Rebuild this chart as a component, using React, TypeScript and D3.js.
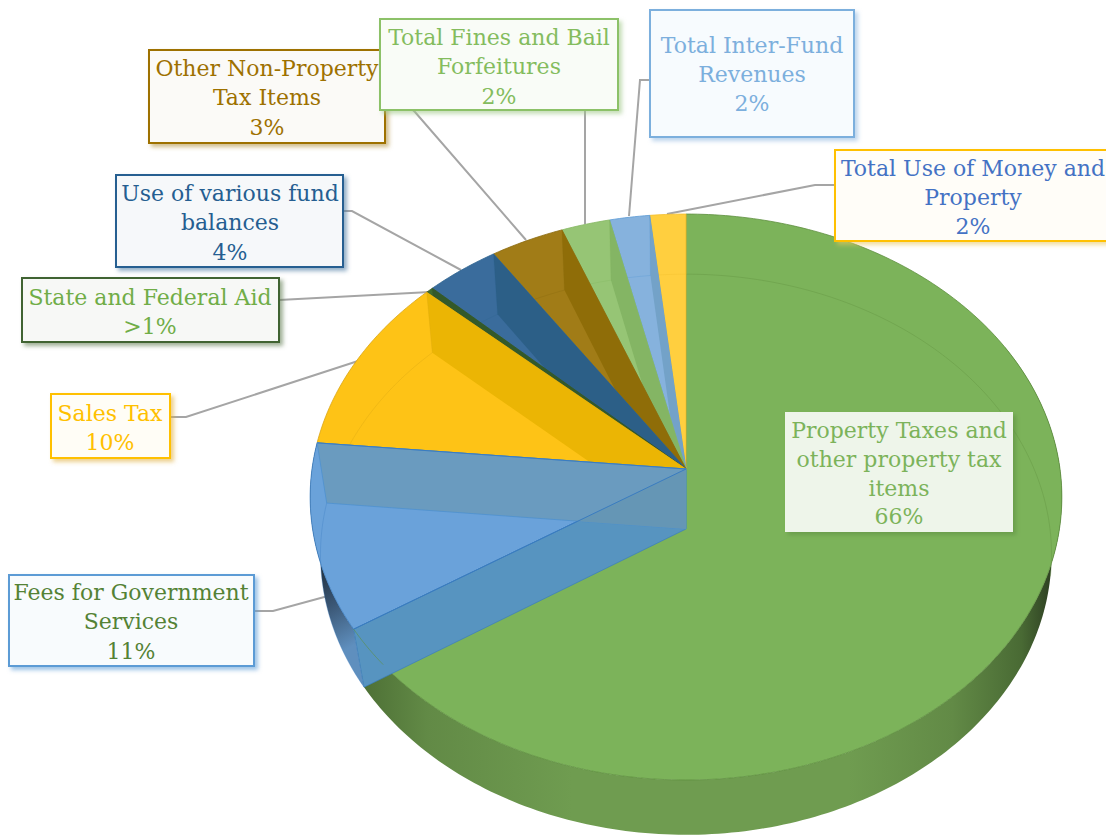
import React from "react";
import * as d3 from "d3";

// ---- data ----
const categories = [
  "Property Taxes and other property tax items",
  "Fees for Government Services",
  "Sales Tax",
  "State and Federal Aid",
  "Use of various fund balances",
  "Other Non-Property Tax Items",
  "Total Fines and Bail Forfeitures",
  "Total Inter-Fund Revenues",
  "Total Use of Money and Property",
];
const values = [65.9, 10.6, 10.25, 0.35, 3.5, 3.5, 2.3, 1.9, 1.7];
const percentLabels = ["66%", "11%", "10%", ">1%", "4%", "3%", "2%", "2%", "2%"];
const labelLines = [
  ["Property Taxes and", "other property tax", "items"],
  ["Fees for Government", "Services"],
  ["Sales Tax"],
  ["State and Federal Aid"],
  ["Use of various fund", "balances"],
  ["Other Non-Property", "Tax Items"],
  ["Total Fines and Bail", "Forfeitures"],
  ["Total Inter-Fund", "Revenues"],
  ["Total Use of Money and", "Property"],
];

// ---- styles ----
const topColors = ["#7CB35A", "#6AA2DA", "#FEC316", "#3E6B2F", "#3A6C9C", "#A17C17", "#96C575", "#86B2DD", "#FFCF3F"];
const wallColors = ["#7CB35A", "#6A9BBF", "#EBB504", "#33592A", "#2C5F87", "#8F6D08", "#84B564", "#73A2C8", "#FFCF3F"];
const edgeColors = ["#5E8F3F", "#3A7CC0", "#D9A514", "#375623", "#2F6491", "#8A6A0E", "#85B862", "#5B9BD5", "#F2BE2C"];
const boxBorder = ["none", "#5B9BD5", "#FFC000", "#3F6430", "#255E91", "#9E7100", "#8CC168", "#7CAFDD", "#FFC000"];
const boxFill = ["#EEF5EA", "#F8FBFD", "#FFFDF6", "#F7F8F6", "#F6F8FA", "#FBFAF7", "#F9FCF7", "#F7FBFE", "#FFFDF8"];
const textColors = ["#7CB35A", "#548235", "#FFC000", "#70AD47", "#255E91", "#9E7100", "#84BC5E", "#7CAFDD", "#4472C4"];
const shadowColors = ["#5E8F3F", "#5B9BD5", "#E0B040", "#5E7A50", "#4A78A0", "#B09040", "#A0C888", "#90B8E0", "#E8C860"];

// x0, y0, x1, y1 of the label boxes; text centre x; first-line centre y; line step
const boxes = [
  [785, 412, 1013, 532, 899, 430, 28.8],
  [9, 575, 254, 666, 131, 592, 29.3],
  [51, 394, 170, 458, 110, 413, 28.5],
  [22, 278, 279, 342, 150, 297, 29],
  [116, 175, 343, 267, 230, 193, 29.3],
  [149, 50, 385, 143, 267, 68, 29.3],
  [380, 19, 618, 110, 499, 37, 29.3],
  [650, 10, 854, 137, 752, 45, 29],
  [835, 150, 1112, 241, 973, 168, 29],
];
const leaders = [
  [[254, 611], [273, 611], [328, 596]],
  [[170, 417], [186, 417], [358, 361]],
  [[279, 300], [430, 292]],
  [[343, 211], [352, 211], [461, 270]],
  [[385, 85], [415, 112], [526, 240]],
  [[585, 110], [585, 224]],
  [[650, 80], [640, 80], [629, 216]],
  [[835, 185], [815, 185], [667, 214]],
];

// ---- perspective projection of the pie plane ----
const CX = 686;
const faces = [
  { a: 374, b: 280.2, k: 0.099, cy: 469 },
  { a: 364, b: 278, k: 0.0909, cy: 529 },
];
function proj(theta: number, face: number): [number, number] {
  const f = faces[face];
  const u = Math.sin(theta);
  const v = -Math.cos(theta);
  const w = 1 - f.k * v;
  return [CX + (f.a * u) / w, f.cy + (f.b * v) / w];
}
function apex(face: number): [number, number] {
  return [CX, faces[face].cy];
}
function arcPts(t0: number, t1: number, face: number): [number, number][] {
  const n = Math.max(4, Math.ceil(Math.abs(t1 - t0) * 60));
  return d3.range(n + 1).map((i) => proj(t0 + ((t1 - t0) * i) / n, face));
}
const line = d3.line<[number, number]>();
const closed = (p: [number, number][]) => (line(p) as string) + "Z";

const arcs = d3.pie<number>().sort(null).value((d) => d)(values);

function Wedge({ i }: { i: number }) {
  const { startAngle: s, endAngle: e } = arcs[i];
  const sector = closed([apex(0), ...arcPts(s, e, 0)]);
  const endWall = closed([proj(e, 0), apex(0), apex(1), proj(e, 1)]);
  return (
    <g>
      <path d={sector} fill={topColors[i]} stroke={edgeColors[i]} strokeWidth={0.8} />
      <path d={endWall} fill={wallColors[i]} />
      <path d={line(arcPts(s, e, 1)) as string} fill="none" stroke={edgeColors[i]} strokeOpacity={0.45} strokeWidth={0.8} />
      <path d={line([proj(e, 1), proj(e, 0)]) as string} fill="none" stroke={edgeColors[i]} strokeOpacity={0.4} strokeWidth={0.7} />
    </g>
  );
}

export default function App() {
  const g = arcs[0];
  const f = arcs[1];
  const greenSide = closed([...arcPts(Math.PI * 0.35, g.endAngle, 0), ...arcPts(g.endAngle, Math.PI * 0.35, 1)]);
  const feesSide = closed([...arcPts(f.startAngle, f.endAngle, 0), ...arcPts(f.endAngle, f.startAngle, 1)]);
  const frontWall = closed([proj(f.startAngle, 0), apex(0), apex(1), proj(f.startAngle, 1)]);
  const backWall = closed([proj(f.endAngle, 0), apex(0), apex(1), proj(f.endAngle, 1)]);
  return (
    <svg width={1106} height={835} style={{ position: "absolute", left: 0, top: 0, display: "block" }} fontFamily="'DejaVu Serif', serif">
      <defs>
        <linearGradient id="greenSide" gradientUnits="userSpaceOnUse" x1={365} x2={1056} y1={0} y2={0}>
          <stop offset="0" stopColor="#4E7136" />
          <stop offset="0.09" stopColor="#628A46" />
          <stop offset="0.3" stopColor="#6F9C50" />
          <stop offset="0.7" stopColor="#6F9C50" />
          <stop offset="0.85" stopColor="#628A46" />
          <stop offset="0.95" stopColor="#496A34" />
          <stop offset="1" stopColor="#2A3A20" />
        </linearGradient>
        <linearGradient id="feesSide" gradientUnits="userSpaceOnUse" x1={318} x2={363} y1={560} y2={640}>
          <stop offset="0" stopColor="#1D2A35" />
          <stop offset="0.5" stopColor="#3A5674" />
          <stop offset="1" stopColor="#5F8FBE" />
        </linearGradient>
        <clipPath id="frontClip"><path d={frontWall} /></clipPath>
        {shadowColors.map((c, i) => (
          <filter key={i} id={`sh${i}`} x="-10%" y="-10%" width="125%" height="130%">
            <feDropShadow dx={3} dy={3} stdDeviation={2.2} floodColor={c} floodOpacity={0.6} />
          </filter>
        ))}
      </defs>
      <rect width={1106} height={835} fill="#fff" />

      {leaders.map((p, i) => (
        <path key={i} d={line(p as [number, number][]) as string} fill="none" stroke="#A5A5A5" strokeWidth={2} />
      ))}

      {/* side walls */}
      <path d={greenSide} fill="url(#greenSide)" />
      <path d={feesSide} fill="url(#feesSide)" />

      {/* main slice */}
      <path d={closed([apex(0), ...arcPts(g.startAngle, g.endAngle, 0)])} fill={topColors[0]} stroke={edgeColors[0]} strokeWidth={0.8} />
      <path d={line(arcPts(g.startAngle, g.endAngle * 0.42, 1)) as string} fill="none" stroke={edgeColors[0]} strokeOpacity={0.45} strokeWidth={0.8} />

      {/* remaining slices, back to front */}
      {d3.range(8, 1, -1).map((i) => <Wedge key={i} i={i} />)}

      {/* fees slice with both inner walls */}
      <path d={closed([apex(0), ...arcPts(f.startAngle, f.endAngle, 0)])} fill={topColors[1]} stroke={edgeColors[1]} strokeWidth={0.8} />
      <path d={line(arcPts(f.startAngle, f.endAngle, 1)) as string} fill="none" stroke={edgeColors[1]} strokeOpacity={0.4} strokeWidth={0.8} />
      <path d={frontWall} fill="#5794C0" stroke={edgeColors[1]} strokeWidth={0.7} />
      <path d={backWall} fill={wallColors[1]} stroke="#4A8FD0" strokeWidth={0.7} />
      <path d={backWall} fill="#6596B5" clipPath="url(#frontClip)" />
      <path d={line([apex(0), proj(f.startAngle, 0)]) as string} stroke={edgeColors[1]} strokeWidth={1} fill="none" />
      <path d={line([apex(0), proj(f.endAngle, 0)]) as string} stroke={edgeColors[1]} strokeWidth={1} fill="none" />
      <path d={line(arcPts(g.endAngle, g.endAngle - 0.14, 0)) as string} stroke="#5E8F3F" strokeOpacity={0.7} strokeWidth={0.8} fill="none" />

      {/* labels */}
      {[5, 6, 7, 8, 4, 3, 2, 1, 0].map((i) => {
        const [x0, y0, x1, y1, tx, ty, step] = boxes[i];
        const lines = [...labelLines[i], percentLabels[i]];
        return (
          <g key={i} aria-label={categories[i]}>
            <rect
              x={x0} y={y0} width={x1 - x0} height={y1 - y0}
              fill={boxFill[i]}
              stroke={boxBorder[i]}
              strokeWidth={boxBorder[i] === "none" ? 0 : 2}
              filter={`url(#sh${i})`}
            />
            <text textAnchor="middle" fontSize={22} fill={textColors[i]}>
              {lines.map((t, j) => (
                <tspan key={j} x={tx} y={ty + j * step + 8}>{t}</tspan>
              ))}
            </text>
          </g>
        );
      })}
    </svg>
  );
}
